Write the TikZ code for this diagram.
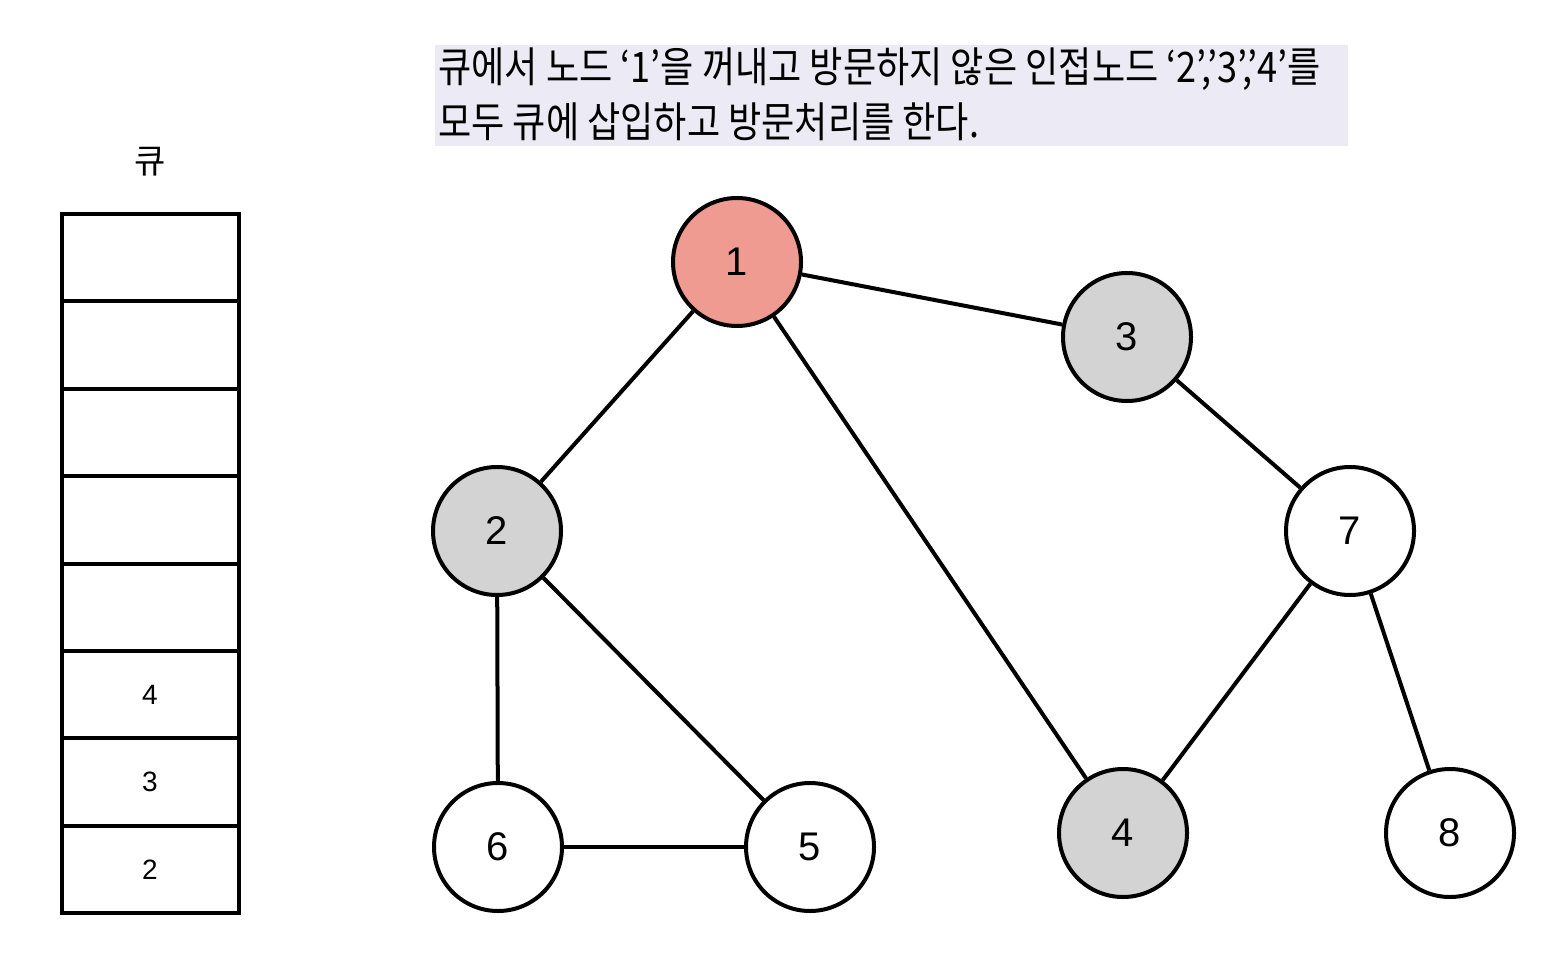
\documentclass[tikz,border=0pt]{standalone}
\usepackage{fontspec}
\usepackage{xcolor}
\usetikzlibrary{positioning}
\setmainfont{Liberation Sans}
\newfontfamily\kr[FakeStretch=0.86]{Noto Sans CJK KR}
\newfontfamily\krq{Noto Sans CJK KR}
\definecolor{seen}{RGB}{211,211,211}
\definecolor{cur}{RGB}{240,155,145}
\definecolor{note}{RGB}{236,234,244}

\begin{document}
\begin{tikzpicture}[x=0.5pt,y=-0.5pt,
  vtx/.style={circle,draw,line width=2pt,minimum size=64pt,inner sep=0pt,font=\fontsize{20}{22}\selectfont},
  edge/.style={line width=2pt}]
  \useasboundingbox (0,0) rectangle (1550,978);
  % note on top
  \fill[note] (435,45) rectangle (1348,146);
  \node[anchor=west,align=left,inner sep=0pt,font=\kr\fontsize{21}{27.5}\selectfont] (msg) at (438,94)
    {큐에서 노드 ‘1’을 꺼내고 방문하지 않은 인접노드 ‘2’,’3’,’4’를\\모두 큐에 삽입하고 방문처리를 한다.};
  % queue
  \node[font=\krq\fontsize{17}{20}\selectfont] (qlabel) at (150,162) {큐};
  \foreach \v [count=\k from 0] in {{},{},{},{},{},4,3,2} {
    \draw[line width=2pt] (62,214+87.4*\k) rectangle (239,214+87.4*\k+87.4);
    \node[font=\fontsize{14}{16}\selectfont] (q\k) at (150,214+87.4*\k+43.7) {\v};
  }
  % graph
  \node[vtx,fill=cur] (n1) at (737,262) {1};
  \node[vtx,fill=seen] (n2) at (497,531) {2};
  \node[vtx,fill=seen] (n3) at (1127,337) {3};
  \node[vtx,fill=seen] (n4) at (1123,833) {4};
  \node[vtx] (n5) at (810,847) {5};
  \node[vtx] (n6) at (498,847) {6};
  \node[vtx] (n7) at (1350,531) {7};
  \node[vtx] (n8) at (1450,833) {8};
  \foreach \a/\b in {n1/n2,n1/n3,n1/n4,n3/n7,n7/n4,n7/n8,n2/n6,n2/n5,n6/n5}
    \draw[edge] (\a) -- (\b);
\end{tikzpicture}
\end{document}
